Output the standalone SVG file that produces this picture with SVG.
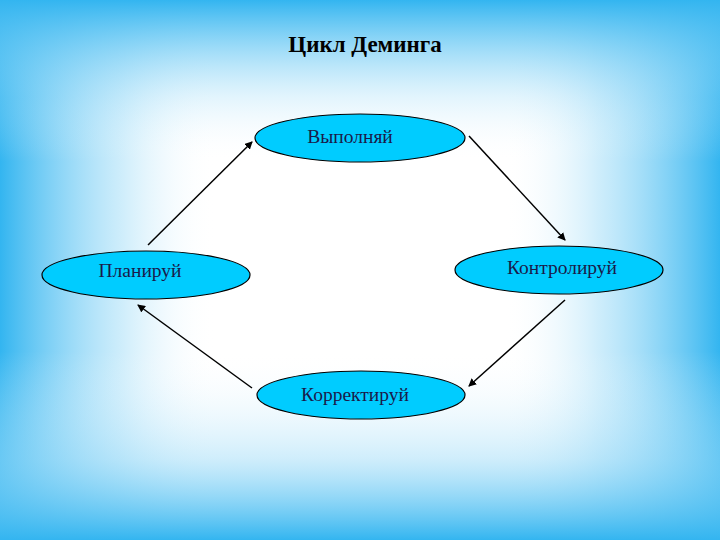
<svg xmlns="http://www.w3.org/2000/svg" width="720" height="540" viewBox="0 0 720 540">
<defs>
<linearGradient id="h" x1="0" y1="0" x2="720" y2="0" gradientUnits="userSpaceOnUse">
<stop offset="0" stop-color="#33b5f0" stop-opacity="1"/>
<stop offset="0.17" stop-color="#9fdcf8" stop-opacity="0.5"/>
<stop offset="0.3" stop-color="#ffffff" stop-opacity="0"/>
<stop offset="0.7" stop-color="#ffffff" stop-opacity="0"/>
<stop offset="0.83" stop-color="#9fdcf8" stop-opacity="0.5"/>
<stop offset="1" stop-color="#33b5f0" stop-opacity="1"/>
</linearGradient>
<linearGradient id="v" x1="0" y1="0" x2="0" y2="540" gradientUnits="userSpaceOnUse">
<stop offset="0" stop-color="#33b5f0" stop-opacity="1"/>
<stop offset="0.18" stop-color="#9fdcf8" stop-opacity="0.3"/>
<stop offset="0.3" stop-color="#ffffff" stop-opacity="0"/>
<stop offset="0.65" stop-color="#ffffff" stop-opacity="0"/>
<stop offset="0.85" stop-color="#9fdcf8" stop-opacity="0.5"/>
<stop offset="1" stop-color="#33b5f0" stop-opacity="1"/>
</linearGradient>
<marker id="ah" markerWidth="8" markerHeight="8" refX="7" refY="4" orient="auto" markerUnits="userSpaceOnUse">
<path d="M0,0 L8,4 L0,8 Z" fill="#000"/>
</marker>
<style>
.n{fill:#00ccff;stroke:#000;stroke-width:1.2}
.t{font-family:"Liberation Serif",serif;font-size:19.5px;fill:#1a1a4a;text-anchor:middle}
.c{stroke:#000;stroke-width:1.5;fill:none;marker-end:url(#ah)}
</style>
</defs>
<rect width="720" height="540" fill="#ffffff"/>
<rect width="720" height="540" fill="url(#h)"/>
<rect width="720" height="540" fill="url(#v)"/>
<text x="365" y="52" style="font-family:'Liberation Serif',serif;font-size:23px;font-weight:bold;text-anchor:middle;fill:#000">Цикл Деминга</text>
<g id="connectors">
<line class="c" x1="148" y1="245" x2="252" y2="142"/>
<line class="c" x1="469" y1="136" x2="565" y2="240"/>
<line class="c" x1="565" y1="300" x2="469" y2="386"/>
<line class="c" x1="252" y1="388" x2="138" y2="305"/>
</g>
<g id="do"><ellipse class="n" cx="360" cy="138" rx="105" ry="24"/><text class="t" x="350" y="143">Выполняй</text></g>
<g id="plan"><ellipse class="n" cx="146" cy="275" rx="104" ry="24"/><text class="t" x="140" y="277">Планируй</text></g>
<g id="check"><ellipse class="n" cx="559" cy="270" rx="104" ry="24"/><text class="t" x="562" y="274">Контролируй</text></g>
<g id="act"><ellipse class="n" cx="361" cy="395" rx="104" ry="24"/><text class="t" x="355" y="401">Корректируй</text></g>
</svg>
